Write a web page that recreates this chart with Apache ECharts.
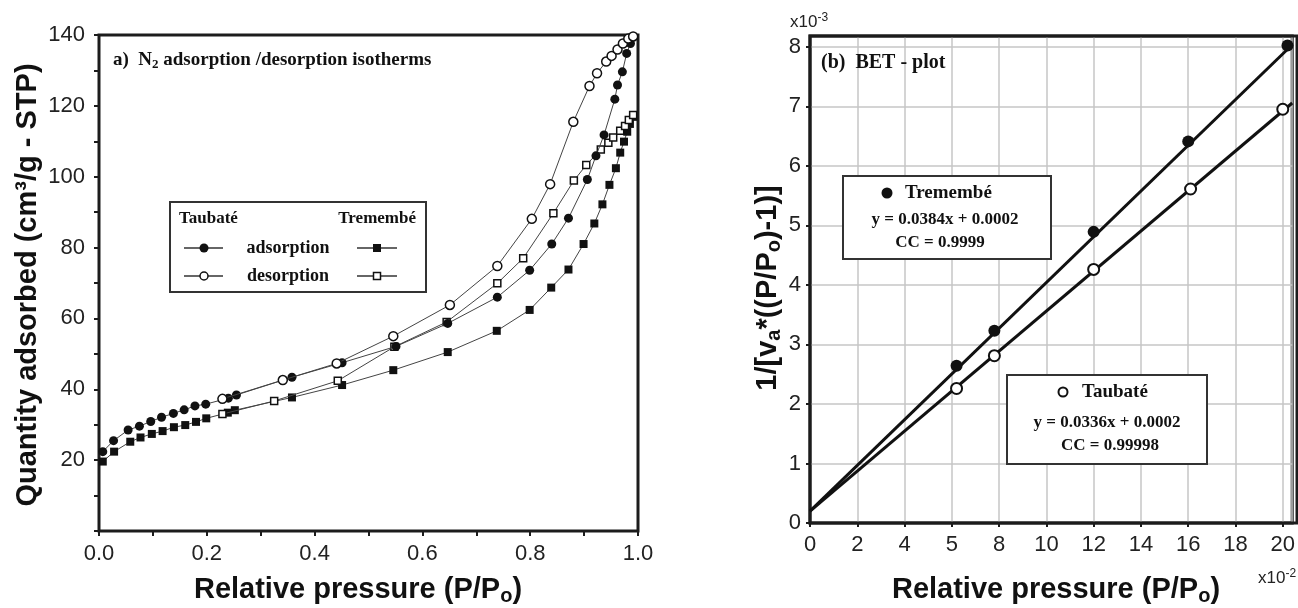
<!DOCTYPE html>
<html>
<head>
<meta charset="utf-8">
<script src="https://cdn.jsdelivr.net/npm/echarts@6/dist/echarts.min.js"></script>
<style>
  html, body { margin: 0; padding: 0; background: #fff; }
  #chart { width: 1298px; height: 608px; }
</style>
</head>
<body>
<div id="chart"></div>
<script>
// ---- (a) N2 adsorption / desorption isotherms ----
const tauAdsX = [0.007, 0.027, 0.054, 0.075, 0.096, 0.116, 0.138, 0.158, 0.178, 0.198, 0.240, 0.255, 0.358, 0.451, 0.551, 0.647, 0.739, 0.799, 0.840, 0.871, 0.906, 0.922, 0.937, 0.957, 0.962, 0.971, 0.979, 0.986];
const tauAdsY = [22.4, 25.5, 28.5, 29.6, 30.9, 32.1, 33.2, 34.2, 35.3, 35.8, 37.5, 38.4, 43.4, 47.5, 52.1, 58.6, 66.0, 73.6, 81.0, 88.3, 99.2, 105.9, 111.8, 121.9, 125.9, 129.6, 134.8, 137.6];

const tauDesX = [0.229, 0.341, 0.441, 0.546, 0.651, 0.739, 0.803, 0.837, 0.880, 0.910, 0.924, 0.941, 0.951, 0.962, 0.972, 0.982, 0.991];
const tauDesY = [37.3, 42.6, 47.3, 55.0, 63.8, 74.8, 88.1, 97.9, 115.5, 125.6, 129.2, 132.5, 134.1, 135.9, 137.6, 139.0, 139.6];

const treAdsX = [0.007, 0.028, 0.058, 0.077, 0.098, 0.118, 0.139, 0.160, 0.180, 0.199, 0.239, 0.252, 0.358, 0.451, 0.546, 0.647, 0.738, 0.799, 0.839, 0.871, 0.899, 0.919, 0.934, 0.947, 0.959, 0.967, 0.974, 0.980, 0.985, 0.991];
const treAdsY = [19.6, 22.4, 25.2, 26.4, 27.4, 28.2, 29.3, 29.9, 30.8, 31.8, 33.4, 34.1, 37.7, 41.2, 45.4, 50.5, 56.5, 62.4, 68.7, 73.8, 81.0, 86.8, 92.2, 97.7, 102.4, 106.8, 109.9, 112.7, 114.9, 116.9];

const treDesX = [0.229, 0.325, 0.443, 0.548, 0.645, 0.739, 0.787, 0.843, 0.881, 0.904, 0.931, 0.945, 0.954, 0.967, 0.976, 0.983, 0.991];
const treDesY = [33.0, 36.7, 42.4, 52.0, 59.0, 69.9, 77.0, 89.7, 98.9, 103.3, 107.7, 109.6, 111.1, 113.0, 114.3, 116.0, 117.4];

// ---- (b) BET plot (x in 10^-2, y in 10^-3) ----
const betTreX = [6.2, 7.8, 12.0, 16.0, 20.2];
const betTreY = [2.64, 3.23, 4.89, 6.41, 8.02];
const betTauX = [6.2, 7.8, 12.0, 16.1, 20.0];
const betTauY = [2.26, 2.81, 4.26, 5.61, 6.95];

// regression lines as printed in the boxes
const treSlope = 0.0384, treIntercept = 0.0002;
const tauSlope = 0.0336, tauIntercept = 0.0002;
const fitRangeX = [0, 20.4];

const betXTickLabels = ['0', '2', '4', '5', '8', '10', '12', '14', '16', '18', '20'];
const betYTickLabels = ['0', '1', '2', '3', '4', '5', '6', '7', '8'];

const pairs = (xs, ys) => xs.map((x, i) => [x, ys[i]]);
// convert y = s*X + b to the scaled axis units (X = x*1e-2, Y = y*1e-3)
const fitLine = (s, b) => fitRangeX.map(x => [x, s * 10 * x + b * 1000]);

const AX = '#1c1c1c';
const SANS = '"Liberation Sans", Arial, sans-serif';
const SERIF = '"Liberation Serif", "Times New Roman", serif';
const tickLabel = { fontFamily: SANS, fontSize: 22, color: '#222' };
const tickStyle = { color: AX, width: 2 };

const chart = echarts.init(document.getElementById('chart'), null, { renderer: 'canvas' });

function txt(x, y, text, font, align, vAlign, extra) {
  return Object.assign({
    type: 'text', x: x, y: y, z: 100,
    style: Object.assign({
      text: text, font: font, fill: '#111',
      align: align, verticalAlign: vAlign,
      textAlign: align, textVerticalAlign: vAlign
    }, (extra && extra.style) || {})
  }, extra && extra.rotation !== undefined ? { rotation: extra.rotation } : {});
}

const subTok = (size, family) => ({ font: 'bold ' + size + 'px ' + family, lineHeight: 8, verticalAlign: 'bottom', fill: '#111' });
const supTok = (size) => ({ font: size + 'px ' + SANS, lineHeight: 8, verticalAlign: 'top', fill: '#222' });

const axisTitleRich = {
  m: { font: 'bold 29px ' + SANS, lineHeight: 33, fill: '#111' },
  s: subTok(20, SANS)
};

const graphics = [
  // frame of the BET panel, kept above its grid lines
  { type: 'rect', z: 4, shape: { x: 810, y: 36, width: 487, height: 487 }, style: { fill: null, stroke: AX, lineWidth: 3 } },

  // axis titles
  txt(28, 285, 'Quantity adsorbed (cm³/g - STP)', 'bold 29px ' + SANS, 'center', 'middle', { rotation: Math.PI / 2 }),
  txt(358, 590, '{m|Relative pressure (P/P}{s|o}{m|)}', 'bold 29px ' + SANS, 'center', 'middle', { style: { rich: axisTitleRich } }),
  txt(1056, 590, '{m|Relative pressure (P/P}{s|o}{m|)}', 'bold 29px ' + SANS, 'center', 'middle', { style: { rich: axisTitleRich } }),
  txt(768, 288, '{m|1/[v}{s|a}{m|*((P/P}{s|o}{m|)-1)]}', 'bold 29px ' + SANS, 'center', 'middle', { rotation: Math.PI / 2, style: { rich: axisTitleRich } }),
  // scale multipliers
  txt(790, 22, '{m|x10}{u|-3}', '17px ' + SANS, 'left', 'middle', { style: { rich: { m: { font: '17px ' + SANS, lineHeight: 20, fill: '#222' }, u: supTok(12) } } }),
  txt(1258, 578, '{m|x10}{u|-2}', '17px ' + SANS, 'left', 'middle', { style: { rich: { m: { font: '17px ' + SANS, lineHeight: 20, fill: '#222' }, u: supTok(12) } } }),
  // panel captions
  txt(113, 60, '{m|a)  N}{s|2}{m| adsorption /desorption isotherms}', 'bold 19px ' + SERIF, 'left', 'middle', {
    style: { rich: { m: { font: 'bold 19px ' + SERIF, lineHeight: 22, fill: '#111' }, s: { font: 'bold 13px ' + SERIF, lineHeight: 6, verticalAlign: 'bottom', fill: '#111' } } }
  }),
  txt(821, 63, '(b)  BET - plot', 'bold 20px ' + SERIF, 'left', 'middle'),

  // legend of panel (a)
  { type: 'rect', z: 99, shape: { x: 170, y: 202, width: 256, height: 90 }, style: { fill: '#fff', stroke: '#333', lineWidth: 2 } },
  txt(179, 219, 'Taubaté', 'bold 17px ' + SERIF, 'left', 'middle'),
  txt(416, 219, 'Tremembé', 'bold 17px ' + SERIF, 'right', 'middle'),
  txt(288, 248, 'adsorption', 'bold 18px ' + SERIF, 'center', 'middle'),
  txt(288, 276, 'desorption', 'bold 18px ' + SERIF, 'center', 'middle'),
  { type: 'line', z: 100, shape: { x1: 184, y1: 248, x2: 223, y2: 248 }, style: { stroke: '#333', lineWidth: 1.5 } },
  { type: 'line', z: 100, shape: { x1: 184, y1: 276, x2: 223, y2: 276 }, style: { stroke: '#333', lineWidth: 1.5 } },
  { type: 'line', z: 100, shape: { x1: 357, y1: 248, x2: 397, y2: 248 }, style: { stroke: '#333', lineWidth: 1.5 } },
  { type: 'line', z: 100, shape: { x1: 357, y1: 276, x2: 397, y2: 276 }, style: { stroke: '#333', lineWidth: 1.5 } },
  { type: 'circle', z: 101, shape: { cx: 204, cy: 248, r: 4.5 }, style: { fill: '#111' } },
  { type: 'circle', z: 101, shape: { cx: 204, cy: 276, r: 4 }, style: { fill: '#fff', stroke: '#111', lineWidth: 1.5 } },
  { type: 'rect', z: 101, shape: { x: 373, y: 244, width: 8, height: 8 }, style: { fill: '#111' } },
  { type: 'rect', z: 101, shape: { x: 373.5, y: 272.5, width: 7, height: 7 }, style: { fill: '#fff', stroke: '#111', lineWidth: 1.5 } },

  // BET boxes
  { type: 'rect', z: 99, shape: { x: 843, y: 176, width: 208, height: 83 }, style: { fill: '#fff', stroke: '#333', lineWidth: 2 } },
  { type: 'circle', z: 101, shape: { cx: 887, cy: 193, r: 5.5 }, style: { fill: '#111' } },
  txt(905, 193, 'Tremembé', 'bold 19px ' + SERIF, 'left', 'middle'),
  txt(945, 220, 'y = 0.0384x + 0.0002', 'bold 17px ' + SERIF, 'center', 'middle'),
  txt(940, 243, 'CC = 0.9999', 'bold 17px ' + SERIF, 'center', 'middle'),

  { type: 'rect', z: 99, shape: { x: 1007, y: 375, width: 200, height: 89 }, style: { fill: '#fff', stroke: '#333', lineWidth: 2 } },
  { type: 'circle', z: 101, shape: { cx: 1063, cy: 392, r: 4.5 }, style: { fill: '#fff', stroke: '#111', lineWidth: 2 } },
  txt(1082, 392, 'Taubaté', 'bold 19px ' + SERIF, 'left', 'middle'),
  txt(1107, 423, 'y = 0.0336x + 0.0002', 'bold 17px ' + SERIF, 'center', 'middle'),
  txt(1110, 446, 'CC = 0.99998', 'bold 17px ' + SERIF, 'center', 'middle')
];

const isoLine = { color: '#444', width: 1 };

const option = {
  animation: false,
  backgroundColor: '#fff',
  grid: [
    { left: 99, top: 35, width: 539, height: 496, show: true, borderColor: AX, borderWidth: 3, backgroundColor: '#fff' },
    { left: 810, top: 36, width: 487, height: 487, show: true, borderColor: AX, borderWidth: 3, backgroundColor: '#fff' }
  ],
  xAxis: [
    {
      gridIndex: 0, type: 'value', min: 0, max: 1, interval: 0.1,
      axisLine: { show: false },
      axisTick: { show: true, length: 5, lineStyle: tickStyle },
      splitLine: { show: false },
      axisLabel: Object.assign({ margin: 12, formatter: v => (Math.round(v * 10) % 2 === 0 ? v.toFixed(1) : '') }, tickLabel)
    },
    {
      gridIndex: 0, type: 'value', position: 'top', min: 0, max: 1, interval: 0.1,
      axisLine: { show: false },
      axisTick: { show: true, inside: true, length: 5, lineStyle: tickStyle },
      splitLine: { show: false }, axisLabel: { show: false }
    },
    {
      gridIndex: 1, type: 'value', min: 0, max: 20.4, interval: 2,
      axisLine: { show: false },
      axisTick: { show: true, length: 4, lineStyle: tickStyle },
      splitLine: { show: true, lineStyle: { color: '#c6c6c6', width: 1.5 } },
      axisLabel: Object.assign({
        margin: 11, showMaxLabel: false,
        formatter: v => { const i = Math.round(v / 2); return Math.abs(v / 2 - i) < 1e-6 && i < betXTickLabels.length ? betXTickLabels[i] : ''; }
      }, tickLabel)
    }
  ],
  yAxis: [
    {
      gridIndex: 0, type: 'value', min: 0, max: 140, interval: 10,
      axisLine: { show: false },
      axisTick: { show: true, length: 5, lineStyle: tickStyle },
      splitLine: { show: false },
      axisLabel: Object.assign({ margin: 14, formatter: v => (v > 0 && v % 20 === 0 ? String(v) : '') }, tickLabel)
    },
    {
      gridIndex: 0, type: 'value', position: 'right', min: 0, max: 140, interval: 10,
      axisLine: { show: false },
      axisTick: { show: true, inside: true, length: 5, lineStyle: tickStyle },
      splitLine: { show: false }, axisLabel: { show: false }
    },
    {
      gridIndex: 1, type: 'value', min: 0, max: 8.18, interval: 1,
      axisLine: { show: false },
      axisTick: { show: true, length: 4, lineStyle: tickStyle },
      splitLine: { show: true, lineStyle: { color: '#c6c6c6', width: 1.5 } },
      axisLabel: Object.assign({
        margin: 9, showMaxLabel: false,
        formatter: v => (Number.isInteger(v) && v < betYTickLabels.length ? betYTickLabels[v] : '')
      }, tickLabel)
    }
  ],
  series: [
    {
      name: 'Tremembé adsorption', type: 'line', xAxisIndex: 0, yAxisIndex: 0,
      data: pairs(treAdsX, treAdsY), symbol: 'rect', symbolSize: 8,
      lineStyle: isoLine, itemStyle: { color: '#111' }, z: 5
    },
    {
      name: 'Tremembé desorption', type: 'line', xAxisIndex: 0, yAxisIndex: 0,
      data: pairs(treDesX, treDesY), symbol: 'rect', symbolSize: 7,
      lineStyle: isoLine, itemStyle: { color: '#fff', borderColor: '#111', borderWidth: 1.5 }, z: 6
    },
    {
      name: 'Taubaté adsorption', type: 'line', xAxisIndex: 0, yAxisIndex: 0,
      data: pairs(tauAdsX, tauAdsY), symbol: 'circle', symbolSize: 9,
      lineStyle: isoLine, itemStyle: { color: '#111' }, z: 7
    },
    {
      name: 'Taubaté desorption', type: 'line', xAxisIndex: 0, yAxisIndex: 0,
      data: pairs(tauDesX, tauDesY), symbol: 'circle', symbolSize: 9,
      lineStyle: isoLine, itemStyle: { color: '#fff', borderColor: '#111', borderWidth: 1.5 }, z: 8
    },
    {
      name: 'Tremembé fit', type: 'line', xAxisIndex: 2, yAxisIndex: 2,
      data: fitLine(treSlope, treIntercept), showSymbol: false, symbol: 'none',
      lineStyle: { color: '#111', width: 3 }, z: 5
    },
    {
      name: 'Taubaté fit', type: 'line', xAxisIndex: 2, yAxisIndex: 2,
      data: fitLine(tauSlope, tauIntercept), showSymbol: false, symbol: 'none',
      lineStyle: { color: '#111', width: 3 }, z: 5
    },
    {
      name: 'Tremembé', type: 'scatter', xAxisIndex: 2, yAxisIndex: 2,
      data: pairs(betTreX, betTreY), symbol: 'circle', symbolSize: 12,
      itemStyle: { color: '#111', opacity: 1 }, z: 6
    },
    {
      name: 'Taubaté', type: 'scatter', xAxisIndex: 2, yAxisIndex: 2,
      data: pairs(betTauX, betTauY), symbol: 'circle', symbolSize: 11,
      itemStyle: { color: '#fff', borderColor: '#111', borderWidth: 2, opacity: 1 }, z: 6
    }
  ],
  graphic: graphics
};

chart.setOption(option);
</script>
</body>
</html>
